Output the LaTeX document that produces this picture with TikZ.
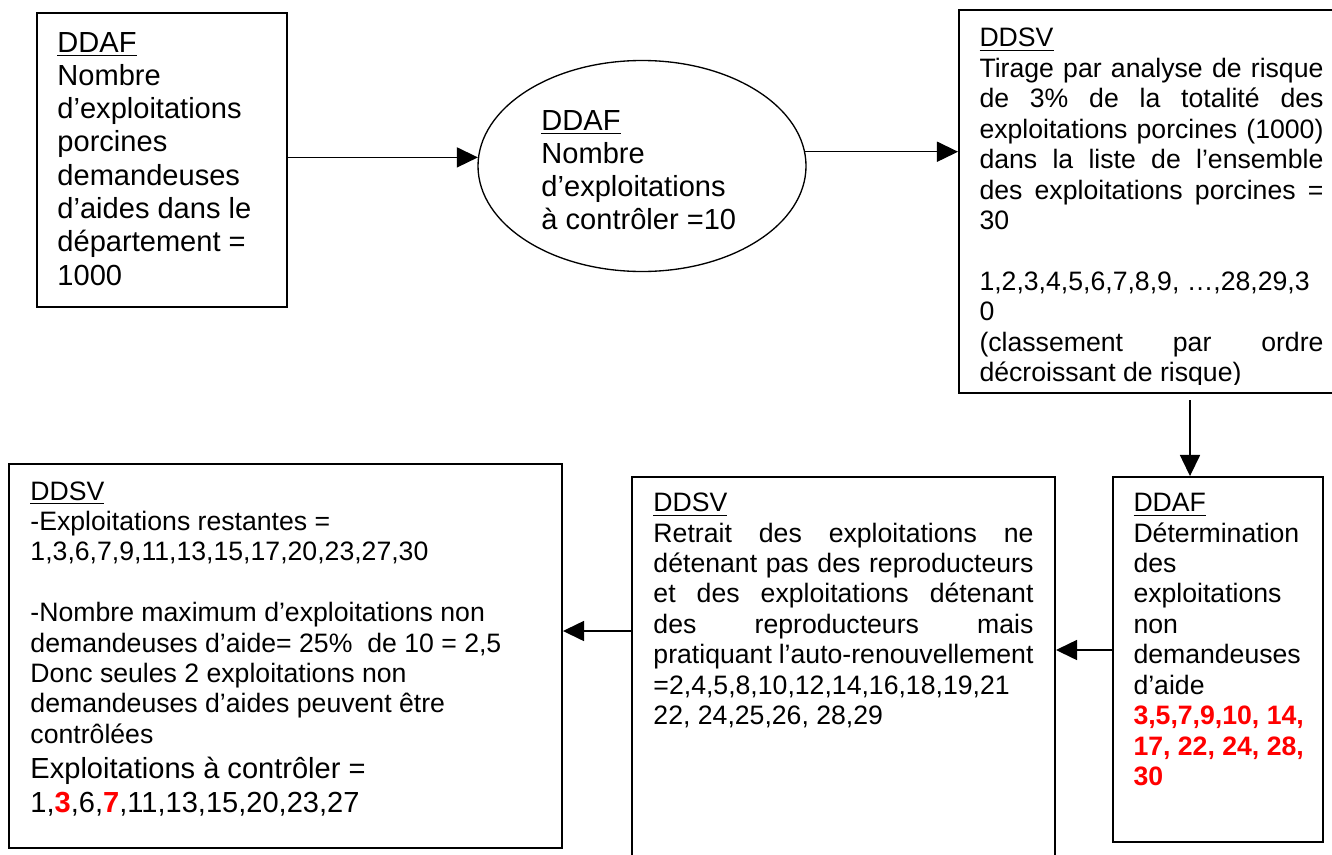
\documentclass[tikz,border=0pt]{standalone}
\usepackage{fontspec}
\setmainfont{Liberation Sans}
\usetikzlibrary{arrows.meta,shapes.geometric}
\definecolor{rouge}{HTML}{FF0000}
\newlength{\upx}
\setlength{\upx}{0.413pt}
\newcommand{\jus}[1]{\makebox[\hsize][s]{\spaceskip=0pt\relax #1}}

\begin{document}
\begin{tikzpicture}[x=0.413pt, y=-0.413pt, >={Triangle[length=8.7pt, width=8.3pt]},
  cadre/.style={draw, line width=0.8pt, inner sep=0pt},
  bulle/.style={draw, ellipse, line width=0.55pt, inner sep=0pt},
  fleche/.style={->, line width=0.55pt},
  gros/.style={anchor=base west, inner sep=0pt, align=left,
    font=\fontsize{12}{13.75}\selectfont,
    execute at begin node={\spaceskip=0pt\xspaceskip=0pt\relax}},
  texte/.style={anchor=base west, inner sep=0pt, align=left,
    font=\fontsize{11}{12.56}\selectfont,
    execute at begin node={\spaceskip=0pt\xspaceskip=0pt\relax}}]
\useasboundingbox (0,0) rectangle (1332,854);

\node[cadre, minimum width=250\upx, minimum height=294\upx] (nbdem) at (162,160) {};
\node[gros, text width=230\upx] (nbdem-t) at (57,52) {\underline{DDAF}\\ Nombre\\ d’exploitations\\ porcines\\ demandeuses\\ d’aides dans le\\ département =\\ 1000};

\node[bulle, minimum width=328\upx, minimum height=211\upx] (nbctl) at (642,166) {};
\node[gros, text width=220\upx] (nbctl-t) at (541,130) {\underline{DDAF}\\ Nombre\\ d’exploitations\\ à contrôler =10};

\node[cadre, minimum width=386\upx, minimum height=383\upx] (tirage) at (1152,201.5) {};
\begin{scope}
\clip (959,10) rectangle (1340,384);
\node[texte, text width=344\upx] (tirage-t) at (979,47) {\underline{DDSV}\\ \jus{Tirage par analyse de risque}\\ \jus{de 3\% de la totalité des}\\ \jus{exploitations porcines (1000)}\\ \jus{dans la liste de l’ensemble}\\ \jus{des exploitations porcines =}\\ 30\\[12.56pt] 1,2,3,4,5,6,7,8,9, …,28,29,3\\ 0\\ \jus{(classement par ordre}\\ décroissant de risque)};
\end{scope}

\node[cadre, minimum width=210\upx, minimum height=365\upx] (ddafnd) at (1218,659.5) {};
\node[texte, text width=185\upx] (ddafnd-t) at (1133,511.7) {\underline{DDAF}\\ Détermination\\ des\\ exploitations\\ non\\ demandeuses\\ d’aide\\ \textcolor{rouge}{\textbf{3,5,7,9,10, 14,}}\\ \textcolor{rouge}{\textbf{17, 22, 24, 28,}}\\ \textcolor{rouge}{\textbf{30}}};

\node[cadre, minimum width=423\upx, minimum height=393\upx] (retrait) at (843.5,673.5) {};
\node[texte, text width=380\upx] (retrait-t) at (653,511.7) {\underline{DDSV}\\ \jus{Retrait des exploitations ne}\\ \jus{détenant pas des reproducteurs}\\ \jus{et des exploitations détenant}\\ \jus{des reproducteurs mais}\\ \jus{pratiquant l’auto-renouvellement}\\ =2,4,5,8,10,12,14,16,18,19,21\\ 22, 24,25,26, 28,29};

\node[cadre, minimum width=553\upx, minimum height=384\upx] (restant) at (285.5,656) {};
\node[texte, text width=520\upx] (restant-t) at (30,500) {\underline{DDSV}\\ -Exploitations restantes =\\ 1,3,6,7,9,11,13,15,17,20,23,27,30\\[12.56pt] -Nombre maximum d’exploitations non\\ demandeuses d’aide= 25\%\ \ de 10 = 2,5\\ Donc seules 2 exploitations non\\ demandeuses d’aides peuvent être\\ contrôlées\\[1.9pt] {\fontsize{12}{13.75}\selectfont Exploitations à contrôler =}\\[1.7pt] {\fontsize{12}{13.75}\selectfont 1,\textcolor{rouge}{\textbf{3}},6,\textcolor{rouge}{\textbf{7}},11,13,15,20,23,27}};

\draw[fleche] (nbdem.east |- nbctl.177) -- (nbctl.177);
\draw[fleche] (nbctl.5) -- (nbctl.5 -| tirage.west);
\coordinate (bas) at (1190,400);
\draw[fleche] (bas) -- (bas |- ddafnd.north);
\coordinate (g1) at ([yshift=9.5\upx]ddafnd.west);
\draw[fleche] (g1) -- (g1 -| retrait.east);
\coordinate (g2) at ([yshift=42.5\upx]retrait.west);
\draw[fleche] (g2) -- (g2 -| restant.east);
\end{tikzpicture}
\end{document}
